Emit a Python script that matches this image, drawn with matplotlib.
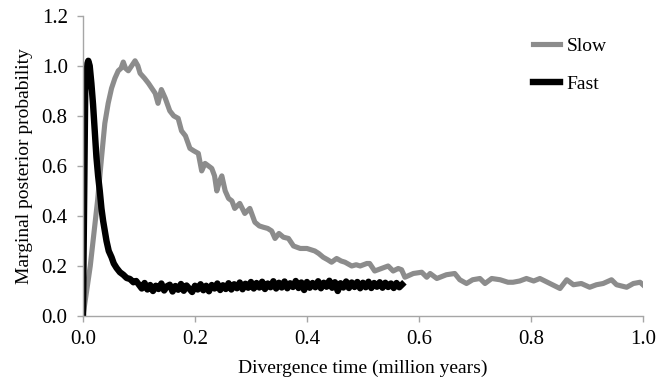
import matplotlib
matplotlib.use('Agg')
import matplotlib.pyplot as plt
import numpy as np

plt.rcParams['font.family'] = ['Liberation Serif', 'DejaVu Serif']

# Slow: (x, y)
slow_x = [0.000, 0.013, 0.026, 0.033, 0.039, 0.045, 0.051, 0.057, 0.063, 0.068,
          0.072, 0.076, 0.081, 0.087, 0.093, 0.098, 0.102, 0.110, 0.117, 0.123,
          0.129, 0.134, 0.140, 0.147, 0.155, 0.162, 0.170, 0.176, 0.183, 0.191,
          0.198, 0.206, 0.212, 0.218, 0.224, 0.230, 0.235, 0.239, 0.244, 0.248,
          0.254, 0.260, 0.266, 0.271, 0.280, 0.289, 0.298, 0.307, 0.315, 0.322,
          0.330, 0.337, 0.343, 0.350, 0.358, 0.367, 0.376, 0.388, 0.400, 0.414,
          0.421, 0.429, 0.437, 0.444, 0.453, 0.461, 0.468, 0.480, 0.488, 0.495,
          0.507, 0.512, 0.518, 0.521, 0.527, 0.533, 0.539, 0.545, 0.554, 0.563,
          0.569, 0.575, 0.590, 0.605, 0.614, 0.620, 0.632, 0.649, 0.664, 0.673,
          0.685, 0.696, 0.709, 0.718, 0.730, 0.745, 0.759, 0.768, 0.780, 0.792,
          0.805, 0.816, 0.834, 0.852, 0.864, 0.876, 0.890, 0.905, 0.917, 0.929,
          0.944, 0.953, 0.962, 0.971, 0.983, 0.995, 1.000]
slow_y = [0.00, 0.20, 0.46, 0.63, 0.77, 0.85, 0.91, 0.95, 0.98, 0.99,
          1.015, 0.99, 0.98, 1.00, 1.02, 1.00, 0.97, 0.95, 0.93, 0.91,
          0.89, 0.85, 0.905, 0.87, 0.82, 0.80, 0.79, 0.74, 0.72, 0.67,
          0.66, 0.65, 0.58, 0.61, 0.60, 0.59, 0.56, 0.50, 0.54, 0.56,
          0.50, 0.47, 0.46, 0.43, 0.45, 0.41, 0.43, 0.375, 0.36, 0.355,
          0.35, 0.34, 0.31, 0.33, 0.315, 0.31, 0.28, 0.27, 0.27, 0.26,
          0.25, 0.235, 0.225, 0.215, 0.23, 0.22, 0.215, 0.20, 0.205, 0.20,
          0.21, 0.21, 0.19, 0.18, 0.185, 0.19, 0.195, 0.20, 0.18, 0.19,
          0.185, 0.155, 0.17, 0.175, 0.155, 0.17, 0.15, 0.165, 0.17, 0.145,
          0.13, 0.145, 0.15, 0.13, 0.15, 0.145, 0.135, 0.135, 0.14, 0.15,
          0.14, 0.15, 0.13, 0.11, 0.145, 0.125, 0.13, 0.115, 0.125, 0.13,
          0.145, 0.125, 0.12, 0.115, 0.13, 0.135, 0.125]

# Fast: peak part
fast_head_x = [0.000, 0.004, 0.008, 0.0095, 0.012, 0.015, 0.018, 0.021, 0.024, 0.027,
               0.030, 0.033, 0.036, 0.039, 0.042, 0.046, 0.051, 0.055, 0.060, 0.066,
               0.072, 0.078, 0.084, 0.090, 0.095, 0.100]
fast_head_y = [0.00, 0.90, 1.01, 1.02, 1.00, 0.93, 0.845, 0.74, 0.635, 0.56,
               0.50, 0.43, 0.38, 0.34, 0.30, 0.26, 0.235, 0.21, 0.192, 0.175,
               0.165, 0.152, 0.148, 0.135, 0.14, 0.125]
# Fast: flat tail, every 0.005 from 0.105 to 0.570
fast_tail_y = [0.110, 0.132, 0.106, 0.124, 0.100, 0.121, 0.108, 0.130, 0.102, 0.119,
               0.125, 0.098, 0.120, 0.105, 0.128, 0.101, 0.122, 0.109, 0.096, 0.121,
               0.106, 0.127, 0.103, 0.121, 0.099, 0.124, 0.110, 0.130, 0.104, 0.123,
               0.108, 0.131, 0.106, 0.127, 0.111, 0.134, 0.107, 0.129, 0.113, 0.136,
               0.110, 0.132, 0.114, 0.137, 0.108, 0.130, 0.115, 0.139, 0.110, 0.133,
               0.114, 0.138, 0.111, 0.131, 0.116, 0.140, 0.112, 0.134, 0.104, 0.136,
               0.113, 0.132, 0.115, 0.139, 0.111, 0.133, 0.117, 0.141, 0.113, 0.135,
               0.100, 0.131, 0.114, 0.138, 0.112, 0.134, 0.116, 0.136, 0.111, 0.133,
               0.115, 0.137, 0.112, 0.132, 0.117, 0.135, 0.113, 0.133, 0.116, 0.130,
               0.112, 0.132, 0.115, 0.126]
fast_tail_x = np.round(0.105 + 0.005 * np.arange(len(fast_tail_y)), 3)

fast_x = list(fast_head_x) + list(fast_tail_x)
fast_y = fast_head_y + fast_tail_y

fig = plt.figure(figsize=(6.56, 3.84), dpi=100)
ax = fig.add_axes([0.1265, 0.177, 0.8535, 0.782])

ax.plot(slow_x, slow_y, color='#8c8c8c', lw=3.7, label='Slow', solid_joinstyle='round')
ax.plot(fast_x, fast_y, color='black', lw=4.6, label='Fast', solid_joinstyle='round')

ax.set_xlim(0, 1.0)
ax.set_ylim(0, 1.2)
ax.set_xticks([0, 0.2, 0.4, 0.6, 0.8, 1.0])
ax.set_yticks([0, 0.2, 0.4, 0.6, 0.8, 1.0, 1.2])
ax.set_xticklabels(['0.0', '0.2', '0.4', '0.6', '0.8', '1.0'])
ax.set_yticklabels(['0.0', '0.2', '0.4', '0.6', '0.8', '1.0', '1.2'])

for s in ['top', 'right']:
    ax.spines[s].set_visible(False)
for s in ['left', 'bottom']:
    ax.spines[s].set_color('#a6a6a6')
    ax.spines[s].set_linewidth(1.0)
ax.tick_params(colors='#a6a6a6', length=4, width=1.0, labelcolor='black', labelsize=15)
ax.tick_params(axis='y', pad=7)
ax.tick_params(axis='x', pad=6)

ax.set_xlabel('Divergence time (million years)', fontsize=14, labelpad=8)
ax.set_ylabel('Marginal posterior probability', fontsize=14, labelpad=6)

ax.legend(loc='center left', bbox_to_anchor=(0.772, 0.835), frameon=False,
          fontsize=14, handlelength=1.4, labelspacing=1.05, handletextpad=0.35)

fig.savefig('out.png', dpi=100)
